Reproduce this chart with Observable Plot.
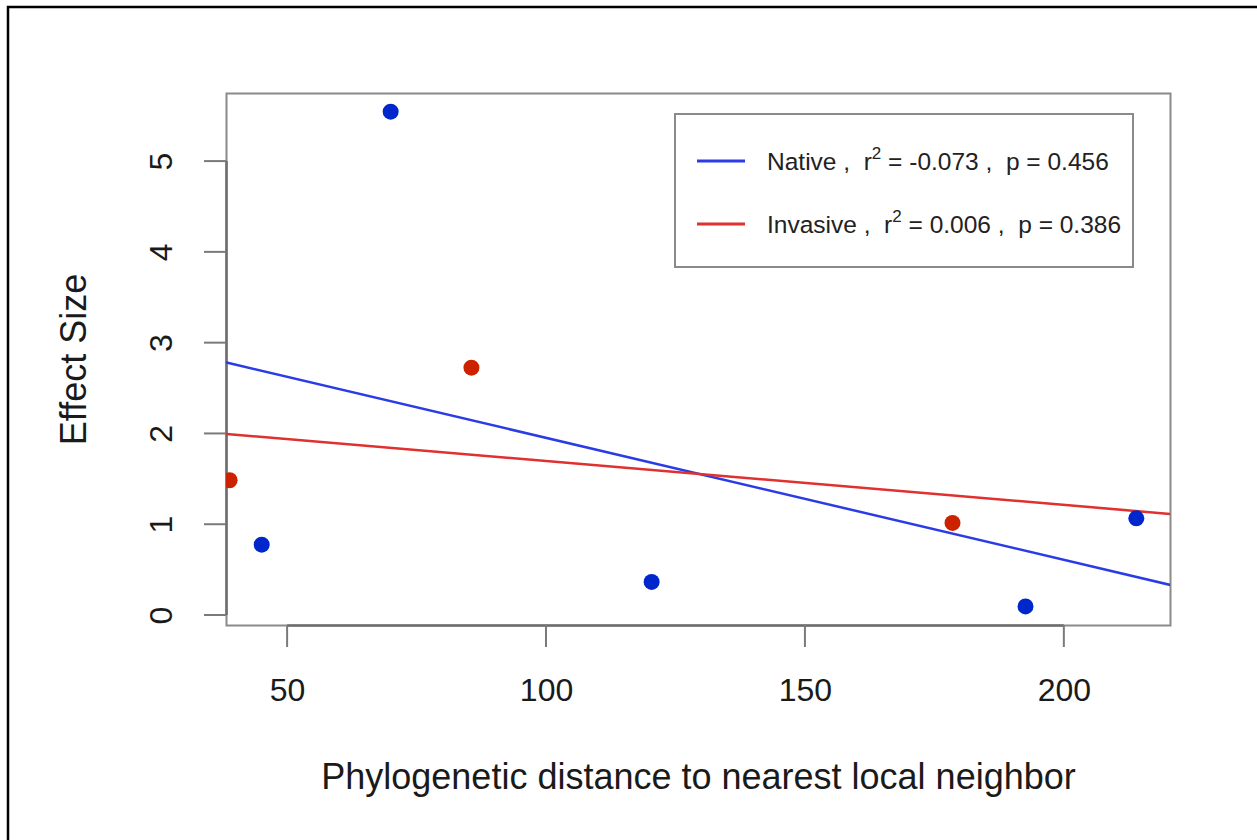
<!DOCTYPE html>
<html>
<head>
<meta charset="utf-8">
<script src="https://cdn.jsdelivr.net/npm/d3@7"></script>
<script src="https://cdn.jsdelivr.net/npm/@observablehq/plot@0.6"></script>
<style>
  html, body { margin: 0; padding: 0; background: #fff; }
  #chart svg { display: block; }
</style>
</head>
<body>
<div id="chart"></div>
<script>
// ---- data ----
const nativeX = [45.0, 69.9, 120.3, 192.5, 213.9];
const nativeY = [0.78, 5.55, 0.37, 0.10, 1.07];
const invasiveX = [38.8, 85.5, 178.4];
const invasiveY = [1.49, 2.73, 1.02];
// fitted lines (abline): intercept, slope
const groups = ["Native", "Invasive"];
const intercepts = [3.30, 2.184];
const slopes = [-0.01344, -0.00483];
const r2Labels = ["-0.073", "0.006"];
const pLabels = ["0.456", "0.386"];
const xTicks = [50, 100, 150, 200];
const yTicks = [0, 1, 2, 3, 4, 5];
const xLabel = "Phylogenetic distance to nearest local neighbor";
const yLabel = "Effect Size";

const pointColors = {Native: "#0027cc", Invasive: "#cc2200"};
const lineColors = {Native: "#2b3ce6", Invasive: "#e03030"};

const xDomain = [38.2, 220.5];
const yDomain = [-0.11, 5.75];

const points = [
  ...nativeX.map((x, i) => ({group: "Native", x, y: nativeY[i]})),
  ...invasiveX.map((x, i) => ({group: "Invasive", x, y: invasiveY[i]}))
];
const fitLines = groups.flatMap((g, i) =>
  xDomain.map(x => ({group: g, x, y: intercepts[i] + slopes[i] * x}))
);

const font = "'Liberation Sans', Arial, Helvetica, sans-serif";
const W = 1257, H = 840;
const mL = 226, mR = 87, mT = 93, mB = 215;

const chart = Plot.plot({
  width: W,
  height: H,
  marginLeft: mL,
  marginRight: mR,
  marginTop: mT,
  marginBottom: mB,
  style: {fontFamily: font, background: "#fff", overflow: "visible"},
  x: {type: "linear", domain: xDomain, axis: null},
  y: {type: "linear", domain: yDomain, axis: null},
  marks: [
    Plot.frame({stroke: "#8a8a8a", strokeWidth: 2}),
    // axis lines between first and last tick
    Plot.ruleY([yDomain[0]], {x1: xTicks[0], x2: xTicks[xTicks.length - 1], stroke: "#6e6e6e", strokeWidth: 2.5}),
    Plot.ruleX([xDomain[0]], {y1: yTicks[0], y2: yTicks[yTicks.length - 1], stroke: "#6e6e6e", strokeWidth: 2.5}),
    Plot.line(fitLines, {x: "x", y: "y", z: "group", stroke: d => lineColors[d.group], strokeWidth: 2.5, clip: true}),
    Plot.dot(points, {x: "x", y: "y", r: 8, fill: d => pointColors[d.group], stroke: "none", clip: true}),
    // tick labels
    Plot.text(xTicks, {x: d => d, frameAnchor: "bottom", dy: 65, lineAnchor: "middle", text: d => String(d), fontSize: 32, fill: "#1a1a1a"}),
    Plot.text(yTicks, {y: d => d, frameAnchor: "left", dx: -65, rotate: -90, lineAnchor: "middle", textAnchor: "middle", text: d => String(d), fontSize: 32, fill: "#1a1a1a"}),
    // axis titles
    Plot.text([xLabel], {frameAnchor: "bottom", dy: 152, lineAnchor: "middle", text: d => d, fontSize: 36, fill: "#1a1a1a"}),
    Plot.text([yLabel], {frameAnchor: "left", dx: -152, rotate: -90, lineAnchor: "middle", textAnchor: "middle", text: d => d, fontSize: 36, fill: "#1a1a1a"})
  ]
});

document.getElementById("chart").appendChild(chart);

// tick marks (outside the frame), positioned through the plot's scales
const svg = d3.select(chart);
const xs = chart.scale("x"), ys = chart.scale("y");
const tickG = svg.append("g").attr("stroke", "#7a7a7a").attr("stroke-width", 2);
const y0 = H - mB;
xTicks.forEach(t => {
  const px = xs.apply(t);
  tickG.append("line").attr("x1", px).attr("x2", px).attr("y1", y0).attr("y2", y0 + 22);
});
yTicks.forEach(t => {
  const py = ys.apply(t);
  tickG.append("line").attr("x1", mL - 22).attr("x2", mL).attr("y1", py).attr("y2", py);
});

// legend
const lg = svg.append("g").attr("font-family", font).attr("font-size", 24.5).attr("fill", "#222")
  .attr("text-anchor", "start");
lg.append("rect").attr("x", 675).attr("y", 114).attr("width", 458).attr("height", 153)
  .attr("fill", "#fff").attr("stroke", "#8a8a8a").attr("stroke-width", 2);
groups.forEach((g, i) => {
  const cy = 161 + i * 63;
  lg.append("line").attr("x1", 697).attr("x2", 745).attr("y1", cy).attr("y2", cy)
    .attr("stroke", lineColors[g]).attr("stroke-width", 3);
  const t = lg.append("text").attr("x", 767).attr("y", cy + 9).attr("text-anchor", "start");
  t.append("tspan").text(g + " ,  r");
  t.append("tspan").attr("font-size", 17).attr("dy", -11).text("2");
  t.append("tspan").attr("dy", 11).text(" = " + r2Labels[i] + " ,  p = " + pLabels[i]);
});

// outer frame (left and top edges)
svg.append("path").attr("d", `M8,${H} L8,7 L${W},7`).attr("fill", "none").attr("stroke", "#000").attr("stroke-width", 2.5);
</script>
</body>
</html>
